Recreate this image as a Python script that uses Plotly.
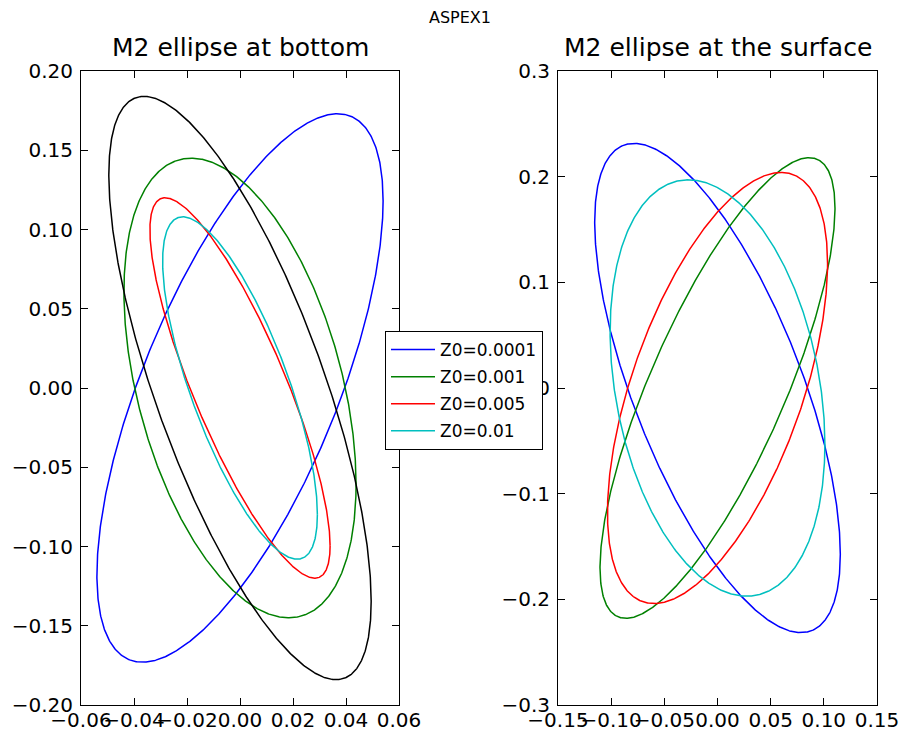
import numpy as np
import plotly.graph_objects as go

# ---- data (tidal ellipse parameters) ----
# u(t) = u_amp * cos(t), v(t) = v_amp * cos(t - phase_lag)
labels = ["Z0=0.0001", "Z0=0.001", "Z0=0.005", "Z0=0.01"]
colors = ["#0000ff", "#008000", "#ff0000", "#00bfbf"]

# bottom (left panel)
bottom_u_amp = [0.054, 0.0438, 0.034, 0.0292]
bottom_v_amp = [0.173, 0.145, 0.120, 0.108]
bottom_phase_lag_deg = [47.0, 114.8, 146.1, 137.7]

# extra black (unlabelled) ellipse in the bottom panel
extra_u_amp = 0.0495
extra_v_amp = 0.184
extra_phase_lag_deg = 137.0

# surface (right panel)
surface_u_amp = [0.1155, 0.1105, 0.1035, 0.101]
surface_v_amp = [0.2315, 0.218, 0.204, 0.197]
surface_phase_lag_deg = [132.8, 38.7, 54.7, 105.7]

left_xticks = [-0.06, -0.04, -0.02, 0.00, 0.02, 0.04, 0.06]
left_yticks = [-0.20, -0.15, -0.10, -0.05, 0.00, 0.05, 0.10, 0.15, 0.20]
right_xticks = [-0.15, -0.10, -0.05, 0.00, 0.05, 0.10, 0.15]
right_yticks = [-0.3, -0.2, -0.1, 0.0, 0.1, 0.2, 0.3]

t = np.linspace(0, 2 * np.pi, 721)


def ellipse(ua, va, lag_deg):
    lag = np.deg2rad(lag_deg)
    return ua * np.cos(t), va * np.cos(t - lag)


W, H = 899, 733
fig = go.Figure()

for i in range(4):
    x, y = ellipse(bottom_u_amp[i], bottom_v_amp[i], bottom_phase_lag_deg[i])
    fig.add_trace(go.Scatter(x=x, y=y, mode="lines", name=labels[i],
                             line=dict(color=colors[i], width=1.5),
                             legendgroup=labels[i], showlegend=True,
                             xaxis="x", yaxis="y"))
x, y = ellipse(extra_u_amp, extra_v_amp, extra_phase_lag_deg)
fig.add_trace(go.Scatter(x=x, y=y, mode="lines", name="",
                         line=dict(color="#000000", width=1.5),
                         showlegend=False, xaxis="x", yaxis="y"))

for i in range(4):
    x, y = ellipse(surface_u_amp[i], surface_v_amp[i], surface_phase_lag_deg[i])
    fig.add_trace(go.Scatter(x=x, y=y, mode="lines", name=labels[i],
                             line=dict(color=colors[i], width=1.5),
                             legendgroup=labels[i], showlegend=False,
                             xaxis="x2", yaxis="y2"))

tickfont = dict(family="DejaVu Sans", size=20, color="black")
common = dict(showline=True, linecolor="black", linewidth=1, mirror="ticks",
              ticks="inside", ticklen=7, tickcolor="black", tickwidth=1,
              showgrid=False, zeroline=False, tickfont=tickfont,
              automargin=False, tickangle=0, ticklabeloverflow="allow")

yb = (H - 705) / H
yt = (H - 71) / H

fig.update_layout(
    width=W, height=H,
    margin=dict(l=0, r=0, t=0, b=0),
    paper_bgcolor="white", plot_bgcolor="white",
    xaxis=dict(domain=[81 / W, 399 / W], range=[-0.06, 0.06],
               tickvals=left_xticks, tickformat=".2f", anchor="y",
               ticklabelstandoff=-3, **common),
    yaxis=dict(domain=[yb, yt], range=[-0.20, 0.20],
               tickvals=left_yticks, tickformat=".2f", anchor="x",
               ticklabelstandoff=3, **common),
    xaxis2=dict(domain=[558 / W, 877 / W], range=[-0.15, 0.15],
                tickvals=right_xticks, tickformat=".2f", anchor="y2",
                ticklabelstandoff=-3, **common),
    yaxis2=dict(domain=[yb, yt], range=[-0.3, 0.3],
                tickvals=right_yticks, tickformat=".1f", anchor="x2",
                ticklabelstandoff=3, **common),
    showlegend=True,
    legend=dict(x=385 / W, y=(H - 331) / H, xanchor="left", yanchor="top",
                bgcolor="white", bordercolor="black", borderwidth=1,
                font=dict(family="DejaVu Sans", size=17, color="black"),
                traceorder="grouped", tracegroupgap=2, itemwidth=44),
    annotations=[
        dict(text="ASPEX1", x=460 / W, y=(H - 18) / H, xref="paper", yref="paper",
             xanchor="center", yanchor="middle", showarrow=False,
             font=dict(family="DejaVu Sans", size=16, color="black")),
        dict(text="M2 ellipse at bottom", x=240 / W, y=(H - 48) / H,
             xref="paper", yref="paper", xanchor="center", yanchor="middle",
             showarrow=False, font=dict(family="DejaVu Sans", size=25, color="black")),
        dict(text="M2 ellipse at the surface", x=717.5 / W, y=(H - 48) / H,
             xref="paper", yref="paper", xanchor="center", yanchor="middle",
             showarrow=False, font=dict(family="DejaVu Sans", size=25, color="black")),
    ],
)

fig.write_html("out.html")
